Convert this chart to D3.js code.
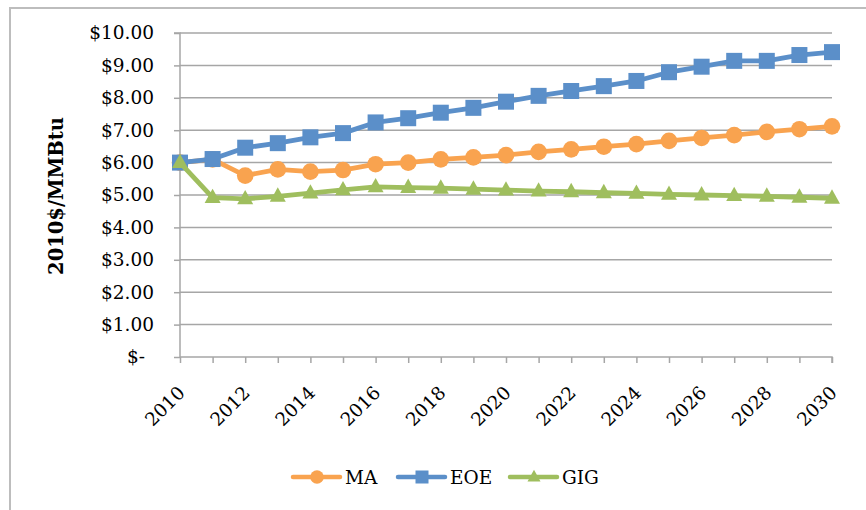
<!DOCTYPE html>
<html>
<head>
<meta charset="utf-8">
<script src="https://cdn.jsdelivr.net/npm/d3@7"></script>
<style>
  html, body { margin: 0; padding: 0; background: #fff; }
  svg text { font-family: "DejaVu Serif", serif; fill: #000; }
</style>
</head>
<body>
<svg id="chart" width="866" height="510"></svg>
<script>
const years = d3.range(2010, 2031);
const maValues = [6.0, 6.1, 5.6, 5.79, 5.72, 5.77, 5.95, 6.0, 6.1, 6.16, 6.23, 6.33, 6.41, 6.49, 6.57, 6.67, 6.76, 6.85, 6.95, 7.03, 7.12];
const eoeValues = [6.0, 6.11, 6.46, 6.6, 6.78, 6.91, 7.24, 7.37, 7.54, 7.69, 7.88, 8.06, 8.21, 8.36, 8.52, 8.79, 8.96, 9.14, 9.14, 9.32, 9.41];
const gigValues = [6.0, 4.92, 4.88, 4.96, 5.06, 5.16, 5.25, 5.23, 5.21, 5.18, 5.15, 5.12, 5.1, 5.07, 5.05, 5.02, 5.0, 4.98, 4.96, 4.93, 4.9];
const yTicks = [0, 1, 2, 3, 4, 5, 6, 7, 8, 9, 10];
const xLabelYears = [2010, 2012, 2014, 2016, 2018, 2020, 2022, 2024, 2026, 2028, 2030];

const series = [
  { name: "MA", values: maValues, color: "#f9a34f", marker: "circle" },
  { name: "EOE", values: eoeValues, color: "#5b8fc9", marker: "square" },
  { name: "GIG", values: gigValues, color: "#9fbe5e", marker: "triangle" },
];

const svg = d3.select("#chart");
const gridColor = "#a6a6a6";

// outer chart frame (runs off the right/bottom of the picture)
svg.append("rect")
  .attr("x", 10).attr("y", 8)
  .attr("width", 900).attr("height", 600)
  .attr("fill", "none")
  .attr("stroke", "#bdbdbd")
  .attr("stroke-width", 2);

const x = d3.scaleLinear().domain([2010, 2030]).range([180, 832]);
const y = d3.scaleLinear().domain([0, 10]).range([357, 33]);

// gridlines
svg.append("g")
  .selectAll("line")
  .data(yTicks.filter((v) => v > 0))
  .enter()
  .append("line")
  .attr("x1", x(2010)).attr("x2", x(2030))
  .attr("y1", (d) => y(d)).attr("y2", (d) => y(d))
  .attr("stroke", gridColor)
  .attr("stroke-width", 1.5);

// y axis
const yAxis = svg.append("g")
  .attr("transform", `translate(${x(2010)},0)`)
  .call(
    d3.axisLeft(y)
      .tickValues(yTicks)
      .tickSize(6)
      .tickPadding(20)
      .tickFormat((d) => (d === 0 ? "$-" : "$" + d.toFixed(2)))
  );
yAxis.select(".domain").attr("stroke", gridColor).attr("stroke-width", 1.5)
  .attr("d", `M-6,${y(10)}H0V${y(0)}`);
yAxis.selectAll(".tick line").attr("stroke", gridColor).attr("stroke-width", 1.5);
yAxis.selectAll(".tick text")
  .attr("font-size", 18.5)
  .attr("font-family", "DejaVu Serif")
  .attr("fill", "#000")
  .attr("dx", (d) => (d === 0 ? -9 : 0));

// x axis
const xAxis = svg.append("g")
  .attr("transform", `translate(0,${y(0)})`)
  .call(d3.axisBottom(x).tickValues(years).tickSize(6).tickFormat(""));
xAxis.select(".domain").attr("stroke", gridColor).attr("stroke-width", 1.5)
  .attr("d", `M${x(2010)},0H${x(2030)}V6`);
xAxis.selectAll(".tick line").attr("stroke", gridColor).attr("stroke-width", 1.5);

svg.append("g")
  .selectAll("text")
  .data(xLabelYears)
  .enter()
  .append("text")
  .attr("transform", (d) => `translate(${x(d) + 6},${y(0) + 37}) rotate(-45)`)
  .attr("text-anchor", "end")
  .attr("font-size", 18.5)
  .text((d) => d);

// y axis title
svg.append("text")
  .attr("transform", `translate(63,196) rotate(-90)`)
  .attr("text-anchor", "middle")
  .attr("font-size", 19.5)
  .attr("font-weight", "bold")
  .text("2010$/MMBtu");

function drawMarker(sel, kind, color, size) {
  if (kind === "circle") {
    sel.append("circle").attr("r", size * 0.52).attr("fill", color);
  } else if (kind === "square") {
    sel.append("rect")
      .attr("x", -size / 2).attr("y", -size / 2)
      .attr("width", size).attr("height", size)
      .attr("fill", color);
  } else {
    const h = size * 0.9;
    sel.append("path")
      .attr("d", `M0,${-h * 0.62}L${size / 2},${h * 0.38}L${-size / 2},${h * 0.38}Z`)
      .attr("fill", color);
  }
}

const line = d3.line()
  .x((d, i) => x(years[i]))
  .y((d) => y(d));

series.forEach((s) => {
  const g = svg.append("g");
  g.append("path")
    .attr("d", line(s.values))
    .attr("fill", "none")
    .attr("stroke", s.color)
    .attr("stroke-width", 4.8)
    .attr("stroke-linejoin", "round");
  s.values.forEach((v, i) => {
    const m = g.append("g").attr("transform", `translate(${x(years[i])},${y(v)})`);
    drawMarker(m, s.marker, s.color, 16);
  });
});

// legend
const legendX = [293, 398, 510];
series.forEach((s, i) => {
  const lg = svg.append("g").attr("transform", `translate(${legendX[i]},477)`);
  lg.append("line")
    .attr("x1", 0).attr("x2", 47)
    .attr("stroke", s.color)
    .attr("stroke-width", 4.5)
    .attr("stroke-linecap", "round");
  const m = lg.append("g").attr("transform", "translate(24,0)");
  drawMarker(m, s.marker, s.color, 13);
  lg.append("text")
    .attr("x", 52).attr("y", 7)
    .attr("font-size", 18.5)
    .text(s.name);
});
</script>
</body>
</html>
